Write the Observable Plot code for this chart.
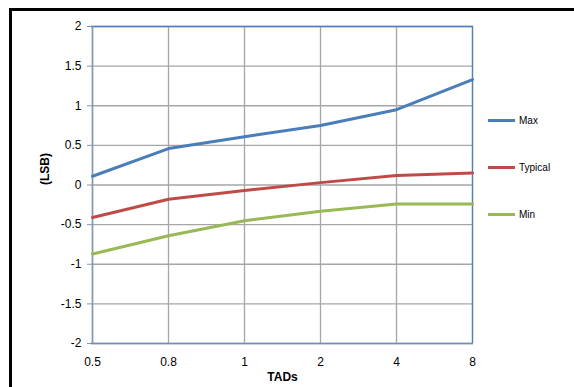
<!DOCTYPE html>
<html>
<head>
<meta charset="utf-8">
<script src="https://cdn.jsdelivr.net/npm/d3@7"></script>
<script src="https://cdn.jsdelivr.net/npm/@observablehq/plot@0.6"></script>
<style>
  body { margin: 0; background: #fff; font-family: "Liberation Sans", Arial, sans-serif; }
  #wrap { position: relative; width: 574px; height: 387px; overflow: hidden; }
  #border { position: absolute; left: 9px; top: 8px; width: 600px; height: 400px; border-left: 3px solid #000; border-top: 3px solid #000; box-sizing: border-box; }
  #chart { position: absolute; left: 0; top: 0; }
  .legend { position: absolute; left: 488px; font-size: 10px; color: #000; display: flex; align-items: center; }
  .legend span.sw { display: inline-block; width: 27px; height: 3px; margin-right: 4px; }
</style>
</head>
<body>
<div id="wrap">
  <div id="border"></div>
  <div id="chart"></div>
</div>
<script>
const categories = ["0.5", "0.8", "1", "2", "4", "8"];
const maxValues = [0.11, 0.46, 0.61, 0.75, 0.95, 1.33];
const typicalValues = [-0.41, -0.18, -0.07, 0.03, 0.12, 0.15];
const minValues = [-0.87, -0.64, -0.45, -0.33, -0.24, -0.24];
const seriesNames = ["Max", "Typical", "Min"];
const seriesColors = ["#4a7ebb", "#be4b48", "#98b954"];
const yTicks = [-2, -1.5, -1, -0.5, 0, 0.5, 1, 1.5, 2];

const seriesValues = [maxValues, typicalValues, minValues];
const data = [];
seriesNames.forEach((s, i) => categories.forEach((c, j) => data.push({series: s, x: c, y: seriesValues[i][j]})));

const chart = Plot.plot({
  width: 574,
  height: 387,
  marginLeft: 91,
  marginRight: 101,
  marginTop: 26,
  marginBottom: 44,
  style: { fontFamily: "Liberation Sans, Arial, sans-serif", fontSize: "12px", background: "transparent", overflow: "visible" },
  x: { type: "point", domain: categories, padding: 0, label: null },
  y: { domain: [-2, 2], ticks: yTicks, label: null },
  color: { domain: seriesNames, range: seriesColors },
  marks: [
    Plot.gridY(yTicks, { stroke: "#a6a6a6", strokeOpacity: 1, strokeWidth: 1.3 }),
    Plot.gridX(categories, { stroke: "#a6a6a6", strokeOpacity: 1, strokeWidth: 1.3 }),
    Plot.ruleY([2], { stroke: "#4f81bd", strokeWidth: 1.3 }),
    Plot.ruleX(["8"], { stroke: "#4f81bd", strokeWidth: 1.3 }),
    Plot.ruleY([-2], { stroke: "#6f8fbf", strokeWidth: 1.5 }),
    Plot.ruleX(["0.5"], { stroke: "#8096b8", strokeWidth: 1.5 }),
    Plot.axisY(yTicks, { tickSize: 4, tickPadding: 6, tickFormat: d => String(d), stroke: "#8096b8", fill: "#000", fontSize: 12, label: null }),
    Plot.axisX(categories, { tickSize: 0, tickPadding: 14, fill: "#000", fontSize: 12, label: null }),
    Plot.line(data, { x: "x", y: "y", z: "series", stroke: "series", strokeWidth: 3 }),
    Plot.text(["TADs"], { frameAnchor: "bottom", dy: 37, fontWeight: "bold", fontSize: 12 }),
    Plot.text(["(LSB)"], { frameAnchor: "left", dx: -46, rotate: -90, fontWeight: "bold", fontSize: 12 })
  ]
});
document.getElementById("chart").appendChild(chart);

const legendTops = [120, 167, 214];
seriesNames.forEach((s, i) => {
  const d = document.createElement("div");
  d.className = "legend";
  d.style.top = (legendTops[i] - 7) + "px";
  d.style.height = "14px";
  d.innerHTML = `<span class="sw" style="background:${seriesColors[i]}"></span>${s}`;
  document.getElementById("wrap").appendChild(d);
});
</script>
</body>
</html>
